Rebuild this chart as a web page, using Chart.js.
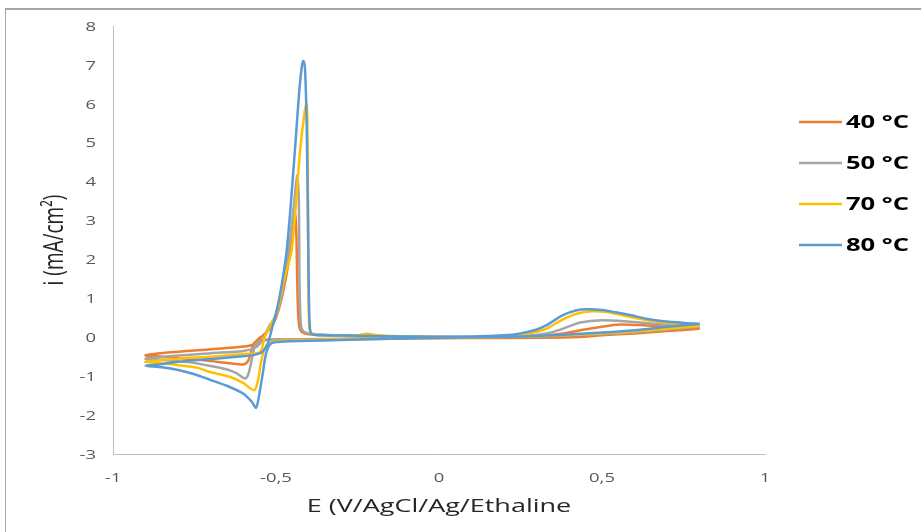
<!DOCTYPE html>
<html>
<head>
<meta charset="utf-8">
<script src="https://cdn.jsdelivr.net/npm/chart.js@4"></script>
<style>
  html, body { margin: 0; padding: 0; background: #fff; overflow: hidden; }
  #frame { position: absolute; left: 5px; top: 8px; width: 1000px; height: 600px; border-top: 2px solid #a6a6a6; border-left: 1px solid #a6a6a6; }
  #wrap { position: absolute; left: 0; top: 0; width: 921px; height: 532px; }
</style>
</head>
<body>
<div id="frame"></div>
<div id="wrap"><canvas id="chart_cv"></canvas></div>
<script>
// series names and colours
const seriesLabels = ['40 °C', '50 °C', '70 °C', '80 °C'];
const seriesColors = ['#ED7D31', '#A5A5A5', '#FFC000', '#5B9BD5'];

// axis ticks: E (V) and i (mA/cm2)
const xTicks = [-1, -0.5, 0, 0.5, 1];
const yTicks = [-3, -2, -1, 0, 1, 2, 3, 4, 5, 6, 7, 8];
const xTitle = 'E (V/AgCl/Ag/Ethaline';
const yTitle = 'i (mA/cm²)';

// each voltammogram as [E, i] pairs
// sweep starts at 0.8 V, goes cathodic to -0.9 V, then back
const cv40 = [
    [0.8, 0.22], [0.7, 0.16], [0.6, 0.1], [0.5, 0.05], [0.43, 0.01], [0.3, -0.01], [0.1, -0.02],
    [-0.1, -0.03], [-0.3, -0.05], [-0.5, -0.06], [-0.55, -0.07], [-0.565, -0.13], [-0.575, -0.32],
    [-0.585, -0.6], [-0.6, -0.7], [-0.64, -0.67], [-0.7, -0.61], [-0.743, -0.57], [-0.8, -0.53],
    [-0.85, -0.5], [-0.9, -0.46],
    [-0.8, -0.37], [-0.7, -0.31], [-0.6, -0.24], [-0.57, -0.18], [-0.555, -0.05], [-0.54, 0.05],
    [-0.52, 0.2], [-0.5, 0.5], [-0.48, 1.1], [-0.46, 2.0], [-0.45, 2.7], [-0.442, 3.18], [-0.438, 2.8],
    [-0.435, 1.5], [-0.432, 0.6], [-0.428, 0.25], [-0.42, 0.13], [-0.4, 0.08], [-0.3, 0.04], [-0.1, 0.01],
    [0.1, 0.0], [0.3, 0.03], [0.38, 0.1], [0.433, 0.18], [0.49, 0.26], [0.555, 0.33], [0.64, 0.3],
    [0.74, 0.26], [0.8, 0.22]
];
const cv50 = [
    [0.8, 0.27], [0.7, 0.2], [0.6, 0.13], [0.5, 0.08], [0.4, 0.05], [0.3, 0.02], [0.1, 0.0],
    [-0.1, -0.02], [-0.3, -0.04], [-0.5, -0.06], [-0.55, -0.1], [-0.565, -0.25], [-0.575, -0.6],
    [-0.585, -0.95], [-0.595, -1.06], [-0.62, -0.93], [-0.65, -0.83], [-0.7, -0.74], [-0.75, -0.66],
    [-0.8, -0.62], [-0.85, -0.58], [-0.9, -0.55],
    [-0.8, -0.47], [-0.7, -0.41], [-0.6, -0.35], [-0.56, -0.25], [-0.54, -0.05], [-0.52, 0.3],
    [-0.5, 0.55], [-0.48, 1.2], [-0.46, 2.3], [-0.445, 3.4], [-0.435, 4.16], [-0.43, 3.5],
    [-0.428, 1.5], [-0.425, 0.5], [-0.42, 0.2], [-0.4, 0.1], [-0.3, 0.05], [-0.1, 0.02], [0.1, 0.01],
    [0.25, 0.03], [0.33, 0.1], [0.38, 0.22], [0.433, 0.38], [0.5, 0.44], [0.586, 0.4], [0.69, 0.33],
    [0.8, 0.27]
];
const cv70 = [
    [0.8, 0.29], [0.7, 0.22], [0.6, 0.15], [0.5, 0.1], [0.43, 0.07], [0.35, 0.04], [0.25, 0.02],
    [0.1, 0.0], [0, -0.02], [-0.2, -0.04], [-0.4, -0.07], [-0.5, -0.1], [-0.52, -0.15],
    [-0.535, -0.3], [-0.545, -0.6], [-0.555, -1.1], [-0.567, -1.36], [-0.6, -1.18], [-0.64, -1.02],
    [-0.7, -0.9], [-0.743, -0.78], [-0.8, -0.72], [-0.85, -0.66], [-0.9, -0.63],
    [-0.8, -0.55], [-0.7, -0.5], [-0.6, -0.43], [-0.549, -0.38], [-0.535, 0.0], [-0.5, 0.6],
    [-0.475, 1.5], [-0.452, 2.24], [-0.426, 4.8], [-0.412, 5.8], [-0.406, 6.0], [-0.403, 5.0],
    [-0.401, 2.0], [-0.399, 0.5], [-0.394, 0.12], [-0.37, 0.06], [-0.3, 0.04], [-0.25, 0.05],
    [-0.22, 0.09], [-0.19, 0.05], [-0.1, 0.02], [0.1, 0.0], [0.2, 0.03], [0.25, 0.07], [0.3, 0.14],
    [0.33, 0.22], [0.38, 0.46], [0.42, 0.6], [0.468, 0.67], [0.52, 0.64], [0.586, 0.52],
    [0.64, 0.44], [0.69, 0.38], [0.75, 0.33], [0.8, 0.29]
];
const cv80 = [
    [0.8, 0.35], [0.7, 0.27], [0.6, 0.18], [0.5, 0.12], [0.43, 0.09], [0.35, 0.05], [0.25, 0.02],
    [0.1, 0.0], [0, -0.01], [-0.1, -0.03], [-0.2, -0.05], [-0.3, -0.07], [-0.4, -0.09], [-0.48, -0.11],
    [-0.515, -0.16], [-0.53, -0.4], [-0.54, -0.9], [-0.55, -1.4], [-0.561, -1.81], [-0.575, -1.65],
    [-0.6, -1.45], [-0.65, -1.25], [-0.7, -1.1], [-0.75, -0.95], [-0.8, -0.84], [-0.85, -0.77],
    [-0.9, -0.73],
    [-0.85, -0.69], [-0.8, -0.63], [-0.7, -0.56], [-0.6, -0.49], [-0.56, -0.44], [-0.54, -0.36],
    [-0.525, -0.15], [-0.51, 0.3], [-0.49, 1.0], [-0.467, 2.24], [-0.442, 4.8], [-0.428, 6.4],
    [-0.42, 7.0], [-0.416, 7.1], [-0.411, 6.9], [-0.406, 5.5], [-0.402, 3.0], [-0.399, 1.0],
    [-0.396, 0.25], [-0.39, 0.08], [-0.35, 0.05], [-0.25, 0.04], [-0.1, 0.02], [0.1, 0.02],
    [0.2, 0.05], [0.25, 0.1], [0.3, 0.2], [0.33, 0.31], [0.38, 0.57], [0.42, 0.69], [0.453, 0.72],
    [0.5, 0.7], [0.55, 0.63], [0.586, 0.57], [0.64, 0.47], [0.688, 0.41], [0.75, 0.37], [0.8, 0.35]
];
const cvSeries = [cv40, cv50, cv70, cv80];

// the source picture is stretched sideways, so its text is too
const SX = 1.42;

function wideText(ctx, txt, x, y, align, rotate) {
    ctx.save();
    ctx.translate(x, y);
    ctx.scale(SX, 1);
    if (rotate) ctx.rotate(-Math.PI / 2);
    ctx.textAlign = align;
    ctx.textBaseline = 'middle';
    ctx.fillText(txt, 0, 0);
    ctx.restore();
}

// tick labels, axis titles and legend, drawn from the chart's scales and datasets
const wideLabels = {
    id: 'wideLabels',
    afterDraw(chart) {
        const ctx = chart.ctx;
        const xs = chart.scales.x, ys = chart.scales.y;
        ctx.save();
        ctx.fillStyle = '#595959';
        ctx.font = '13px "Open Sans"';
        xTicks.forEach(v => {
            wideText(ctx, String(v).replace('.', ','), xs.getPixelForValue(v), xs.top + 24, 'center');
        });
        yTicks.forEach(v => {
            wideText(ctx, String(v), ys.right - 17, ys.getPixelForValue(v) + 1, 'right');
        });

        ctx.fillStyle = '#262626';
        ctx.font = '19px "Open Sans"';
        wideText(ctx, xTitle, (xs.left + xs.right) / 2, 507, 'center');
        wideText(ctx, yTitle, 55, (ys.top + ys.bottom) / 2, 'center', true);

        chart.data.datasets.forEach((ds, k) => {
            const y = 122 + k * 41;
            ctx.strokeStyle = ds.borderColor;
            ctx.lineWidth = 2.5;
            ctx.beginPath();
            ctx.moveTo(799, y);
            ctx.lineTo(842, y);
            ctx.stroke();
            ctx.fillStyle = '#000';
            ctx.font = 'bold 18px "Open Sans"';
            wideText(ctx, ds.label, 846, y + 1, 'left');
        });
        ctx.restore();
    }
};

const ctx = document.getElementById('chart_cv');
new Chart(ctx, {
    type: 'scatter',
    data: {
        datasets: cvSeries.map((pts, k) => ({
            label: seriesLabels[k],
            data: pts.map(p => ({ x: p[0], y: p[1] })),
            showLine: true,
            borderColor: seriesColors[k],
            backgroundColor: seriesColors[k],
            borderWidth: 2.5,
            pointRadius: 0,
            tension: 0.3,
            order: cvSeries.length - k
        }))
    },
    options: {
        responsive: true,
        maintainAspectRatio: false,
        animation: false,
        layout: { padding: { top: 26, right: 156, left: 0, bottom: 0 } },
        plugins: { legend: { display: false }, tooltip: { enabled: false } },
        scales: {
            x: {
                type: 'linear',
                min: xTicks[0],
                max: xTicks[xTicks.length - 1],
                afterBuildTicks: s => { s.ticks = xTicks.map(v => ({ value: v })); },
                afterFit: s => { s.height = 532 - 454; },
                grid: { display: false, drawTicks: false },
                border: { display: true, color: '#bfbfbf', width: 1 },
                ticks: { display: false }
            },
            y: {
                min: yTicks[0],
                max: yTicks[yTicks.length - 1],
                afterBuildTicks: s => { s.ticks = yTicks.map(v => ({ value: v })); },
                afterFit: s => { s.width = 113; },
                grid: { display: false, drawTicks: false },
                border: { display: true, color: '#bfbfbf', width: 1 },
                ticks: { display: false }
            }
        }
    },
    plugins: [wideLabels]
});
</script>
</body>
</html>
